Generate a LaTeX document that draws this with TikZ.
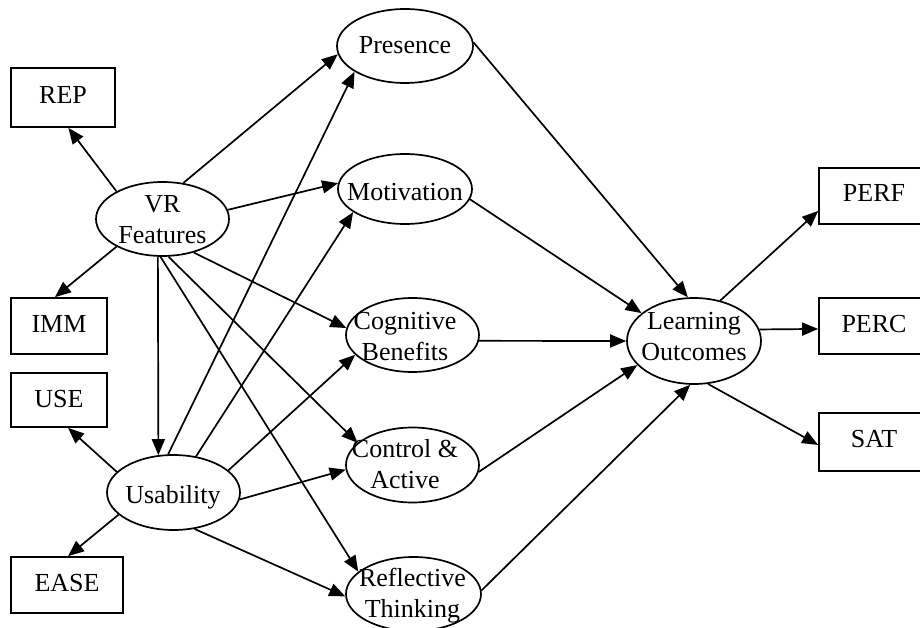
\documentclass[tikz,border=0pt]{standalone}
\usepackage{fontspec}
\setmainfont{Liberation Serif}
\usetikzlibrary{shapes.geometric, arrows.meta}
\begin{document}
\begin{tikzpicture}[x=1pt,y=-1pt,
  ell/.style={draw, ellipse, line width=1.7pt, inner sep=0pt},
  box/.style={draw, rectangle, line width=1.7pt, inner sep=0pt},
  lbl/.style={font=\fontsize{26}{31}\selectfont, align=center, inner sep=0pt},
  arr/.style={-{Triangle[length=16pt,width=13pt]}, line width=1.7pt}]
\useasboundingbox (0,0) rectangle (920,628);
% boxes
\node[box, minimum width=104pt, minimum height=59pt] (rep) at (63,97.5) {};
\node[box, minimum width=96pt, minimum height=56pt] (imm) at (59,326) {};
\node[box, minimum width=96pt, minimum height=54pt] (use) at (59,400) {};
\node[box, minimum width=112pt, minimum height=56pt] (ease) at (67,585) {};
\node[box, minimum width=110pt, minimum height=56pt] (perf) at (874,196) {};
\node[box, minimum width=110pt, minimum height=56pt] (perc) at (874,326) {};
\node[box, minimum width=110pt, minimum height=58pt] (sat) at (874,442) {};
% ellipses
\node[ell, minimum width=133pt, minimum height=74pt] (vr) at (162.5,219) {};
\node[ell, minimum width=136pt, minimum height=74pt] (pres) at (405,46) {};
\node[ell, minimum width=134pt, minimum height=70pt] (mot) at (405,189) {};
\node[ell, minimum width=133pt, minimum height=74pt] (cog) at (412.5,335) {};
\node[ell, minimum width=133pt, minimum height=75pt] (ctrl) at (412.5,465) {};
\node[ell, minimum width=135pt, minimum height=74pt] (refl) at (413.5,594) {};
\node[ell, minimum width=133pt, minimum height=75pt] (usab) at (173.5,492.5) {};
\node[ell, minimum width=134pt, minimum height=86pt] (lo) at (694,341) {};
% texts
\node[lbl, anchor=base] (repT) at (63,103.3) {REP};
\node[lbl, anchor=base] (immT) at (59,332) {IMM};
\node[lbl, anchor=base] (useT) at (59,407) {USE};
\node[lbl, anchor=base] (easeT) at (67,591) {EASE};
\node[lbl, anchor=base] (perfT) at (874,202) {PERF};
\node[lbl, anchor=base] (percT) at (874,332) {PERC};
\node[lbl, anchor=base] (satT) at (874,447) {SAT};
\node[lbl] (vrT) at (162.5,220) {VR\\Features};
\node[lbl, anchor=base] (presT) at (405,53.3) {Presence};
\node[lbl, anchor=base] (motT) at (405,201) {Motivation};
\node[lbl] (cogT) at (405,336.6) {Cognitive\\Benefits};
\node[lbl] (ctrlT) at (405,464.6) {Control \&\\Active};
\node[lbl] (reflT) at (412.5,596) {Reflective\\Thinking};
\node[lbl, anchor=base] (usabT) at (173,503) {Usability};
\node[lbl] (loT) at (694,336.6) {Learning\\Outcomes};
% arrows
\draw[arr] (vr.149) -- (rep.-80);
\draw[arr] (vr.211) -- (imm.98);
\draw[arr] (vr.60) -- (pres.187);
\draw[arr] (vr.8) -- (mot.175);
\draw[arr] (vr.-47) -- (cog.174);
\draw[arr] (vr.-97) -- (usab.112);
\draw[arr] (vr.-81) -- (ctrl.158);
\draw[arr] (vr.-93) -- (refl.158);
\draw[arr] (usab.98) -- (pres.207);
\draw[arr] (usab.58) -- (mot.204);
\draw[arr] (usab.22) -- (cog.199);
\draw[arr] (usab.-6) -- (ctrl.184);
\draw[arr] (usab.-60) -- (refl.182.5);
\draw[arr] (usab.160) -- (use.-72);
\draw[arr] (usab.202) -- (ease.88);
\draw[arr] (pres.3.5) -- (lo.98);
\draw[arr] (mot.-9) -- (lo.152);
\draw[arr] (cog.-5) -- (lo.180);
\draw[arr] (ctrl.-6) -- (lo.203);
\draw[arr] (refl.3.5) -- (lo.265);
\draw[arr] (lo.57) -- (perf.195);
\draw[arr] (lo.10) -- (perc.183);
\draw[arr] (lo.-72) -- (sat.183);
\end{tikzpicture}
\end{document}
